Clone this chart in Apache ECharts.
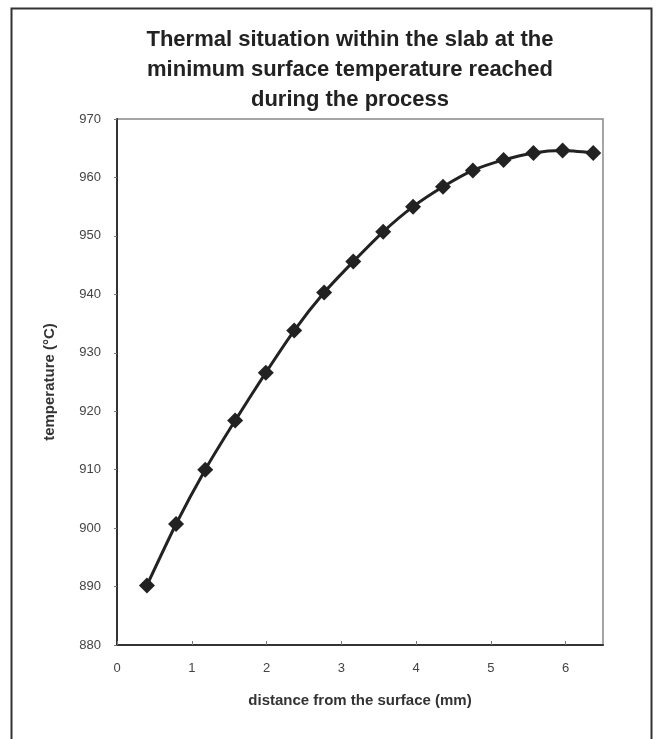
<!DOCTYPE html>
<html>
<head>
<meta charset="utf-8">
<script src="https://cdn.jsdelivr.net/npm/echarts@6/dist/echarts.min.js"></script>
<style>
  html, body { margin: 0; padding: 0; background: #fff; }
  #main { width: 656px; height: 739px; }
</style>
</head>
<body>
<div id="main"></div>
<script>
// values
const distance = [0.4, 0.79, 1.18, 1.58, 1.99, 2.37, 2.77, 3.16, 3.56, 3.96, 4.36, 4.76, 5.17, 5.57, 5.96, 6.37];
const temperature = [890.2, 900.7, 910.0, 918.4, 926.6, 933.8, 940.3, 945.6, 950.7, 955.0, 958.4, 961.2, 963.0, 964.2, 964.6, 964.2];

const points = distance.map((d, i) => [d, temperature[i]]);

var myChart = echarts.init(document.getElementById("main"));

var option = {
  animation: false,
  backgroundColor: "#fff",
  textStyle: { fontFamily: "Liberation Sans, Arial, sans-serif" },
  title: {
    text: "Thermal situation within the slab at the\nminimum surface temperature reached\nduring the process",
    left: 345,
    top: 20,
    textAlign: "center",
    textStyle: {
      fontSize: 22,
      fontWeight: "bold",
      color: "#222",
      lineHeight: 30,
    },
  },
  // outer frame
  graphic: [
    {
      type: "rect",
      shape: { x: 11.5, y: 8.5, width: 640, height: 740 },
      style: { fill: "none", stroke: "#333", lineWidth: 2 },
    },
  ],
  grid: {
    left: 117,
    top: 119,
    right: 53,
    bottom: 94,
    show: true,
    borderColor: "#888",
    borderWidth: 1.5,
  },
  xAxis: {
    type: "value",
    min: 0,
    max: 6.5,
    interval: 1,
    name: "distance from the surface (mm)",
    nameLocation: "middle",
    nameGap: 48,
    nameTextStyle: { fontSize: 15, fontWeight: "bold", color: "#333" },
    axisLine: { show: true, lineStyle: { color: "#333", width: 2 } },
    axisTick: { show: true, inside: true, length: 4, lineStyle: { color: "#777" } },
    axisLabel: { fontSize: 13, color: "#444", margin: 17, showMaxLabel: false },
    splitLine: { show: false },
  },
  yAxis: {
    type: "value",
    min: 880,
    max: 970,
    interval: 10,
    name: "temperature (°C)",
    nameLocation: "middle",
    nameGap: 60,
    nameRotate: 90,
    nameTextStyle: { fontSize: 15, fontWeight: "bold", color: "#333" },
    axisLine: { show: true, lineStyle: { color: "#333", width: 2 } },
    axisTick: { show: true, length: 3, lineStyle: { color: "#777" } },
    axisLabel: { fontSize: 13, color: "#444", margin: 16 },
    splitLine: { show: false },
  },
  series: [
    {
      type: "line",
      data: points,
      smooth: 0.2,
      symbol: "diamond",
      symbolSize: 16,
      itemStyle: { color: "#222" },
      lineStyle: { color: "#222", width: 3 },
    },
  ],
};

myChart.setOption(option);
</script>
</body>
</html>
